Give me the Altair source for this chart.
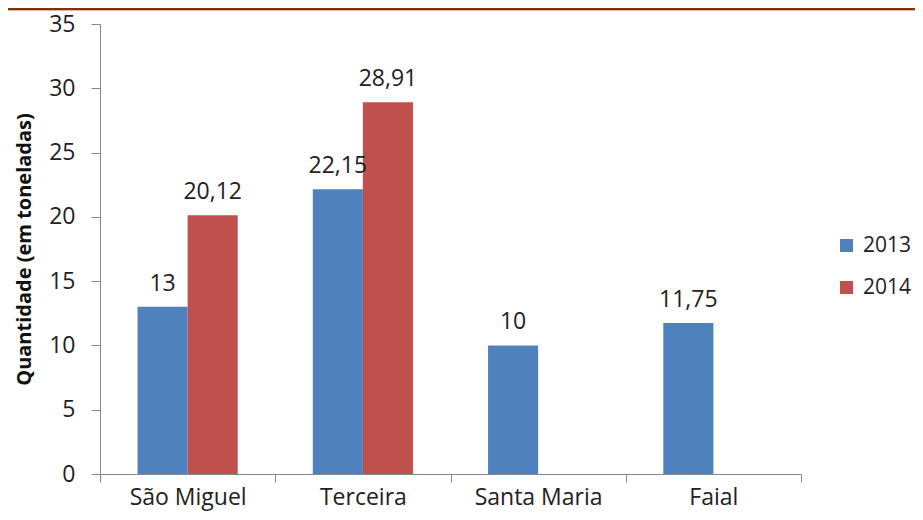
import altair as alt
import pandas as pd

islands = ["São Miguel", "Terceira", "Santa Maria", "Faial"]
years = ["2013", "2014"]
values_2013 = [13, 22.15, 10, 11.75]
values_2014 = [20.12, 28.91, None, None]

rows = []
for i, isl in enumerate(islands):
    rows.append({"ilha": isl, "ano": "2013", "valor": values_2013[i]})
    if values_2014[i] is not None:
        rows.append({"ilha": isl, "ano": "2014", "valor": values_2014[i]})
df = pd.DataFrame(rows)

FONT = "Open Sans"
colors = ["#4F81BD", "#C0504D"]
TXT = "#222222"

base = alt.Chart(df).encode(
    x=alt.X("ilha:N", sort=islands, title=None,
            scale=alt.Scale(paddingInner=0, paddingOuter=0),
            axis=alt.Axis(labelAngle=0, tickBand="extent", tickSize=8, labelPadding=4,
                          domainColor="#888888", tickColor="#888888",
                          labelFontSize=23, labelColor=TXT, labelFont=FONT)),
    xOffset=alt.XOffset("ano:N", sort=years,
                        scale=alt.Scale(domain=years, paddingInner=0, paddingOuter=0.75)),
)

bars = base.mark_bar().encode(
    y=alt.Y("valor:Q", title="Quantidade (em toneladas)",
            scale=alt.Scale(domain=[0, 35]),
            axis=alt.Axis(values=[0, 5, 10, 15, 20, 25, 30, 35], grid=False,
                          tickSize=9, labelPadding=16,
                          domainColor="#888888", tickColor="#888888",
                          labelFontSize=23, labelColor=TXT, labelFont=FONT,
                          titleFont=FONT, titleFontSize=20, titleFontWeight="bold",
                          titleColor="#111111", titlePadding=14)),
    color=alt.Color("ano:N", sort=years, title=None,
                    scale=alt.Scale(domain=years, range=colors),
                    legend=alt.Legend(orient="none", legendX=736, legendY=211,
                                      symbolType="square", symbolSize=169,
                                      symbolStrokeWidth=0,
                                      labelFontSize=21, labelFont=FONT,
                                      labelColor=TXT, rowPadding=20,
                                      labelOffset=6)),
)

labels = base.mark_text(baseline="alphabetic", dy=-16, fontSize=23, font=FONT,
                        color=TXT).transform_calculate(
    lab="replace(format(datum.valor, '.2~f'), '.', ',')"
).encode(
    y=alt.Y("valor:Q"),
    text="lab:N",
)

band = alt.Chart(pd.DataFrame({"a": [0]})).mark_rect(color="#7F3300", clip=False).encode(
    x=alt.value(-100), x2=alt.value(830), y=alt.value(-16), y2=alt.value(-14)
)
band_line = alt.Chart(pd.DataFrame({"a": [0]})).mark_rule(color="#D8B8A0", clip=False).encode(
    x=alt.value(-100), x2=alt.value(830), y=alt.value(-13.5)
)

chart = alt.layer(bars, labels, band, band_line).properties(
    width=701, height=450,
    background="white",
    autosize=alt.AutoSizeParams(type="none"),
    padding={"left": 92, "top": 16, "right": 114, "bottom": 38},
).configure_view(stroke=None)

chart.save("out.html", embed_options={"renderer": "svg", "actions": False})
